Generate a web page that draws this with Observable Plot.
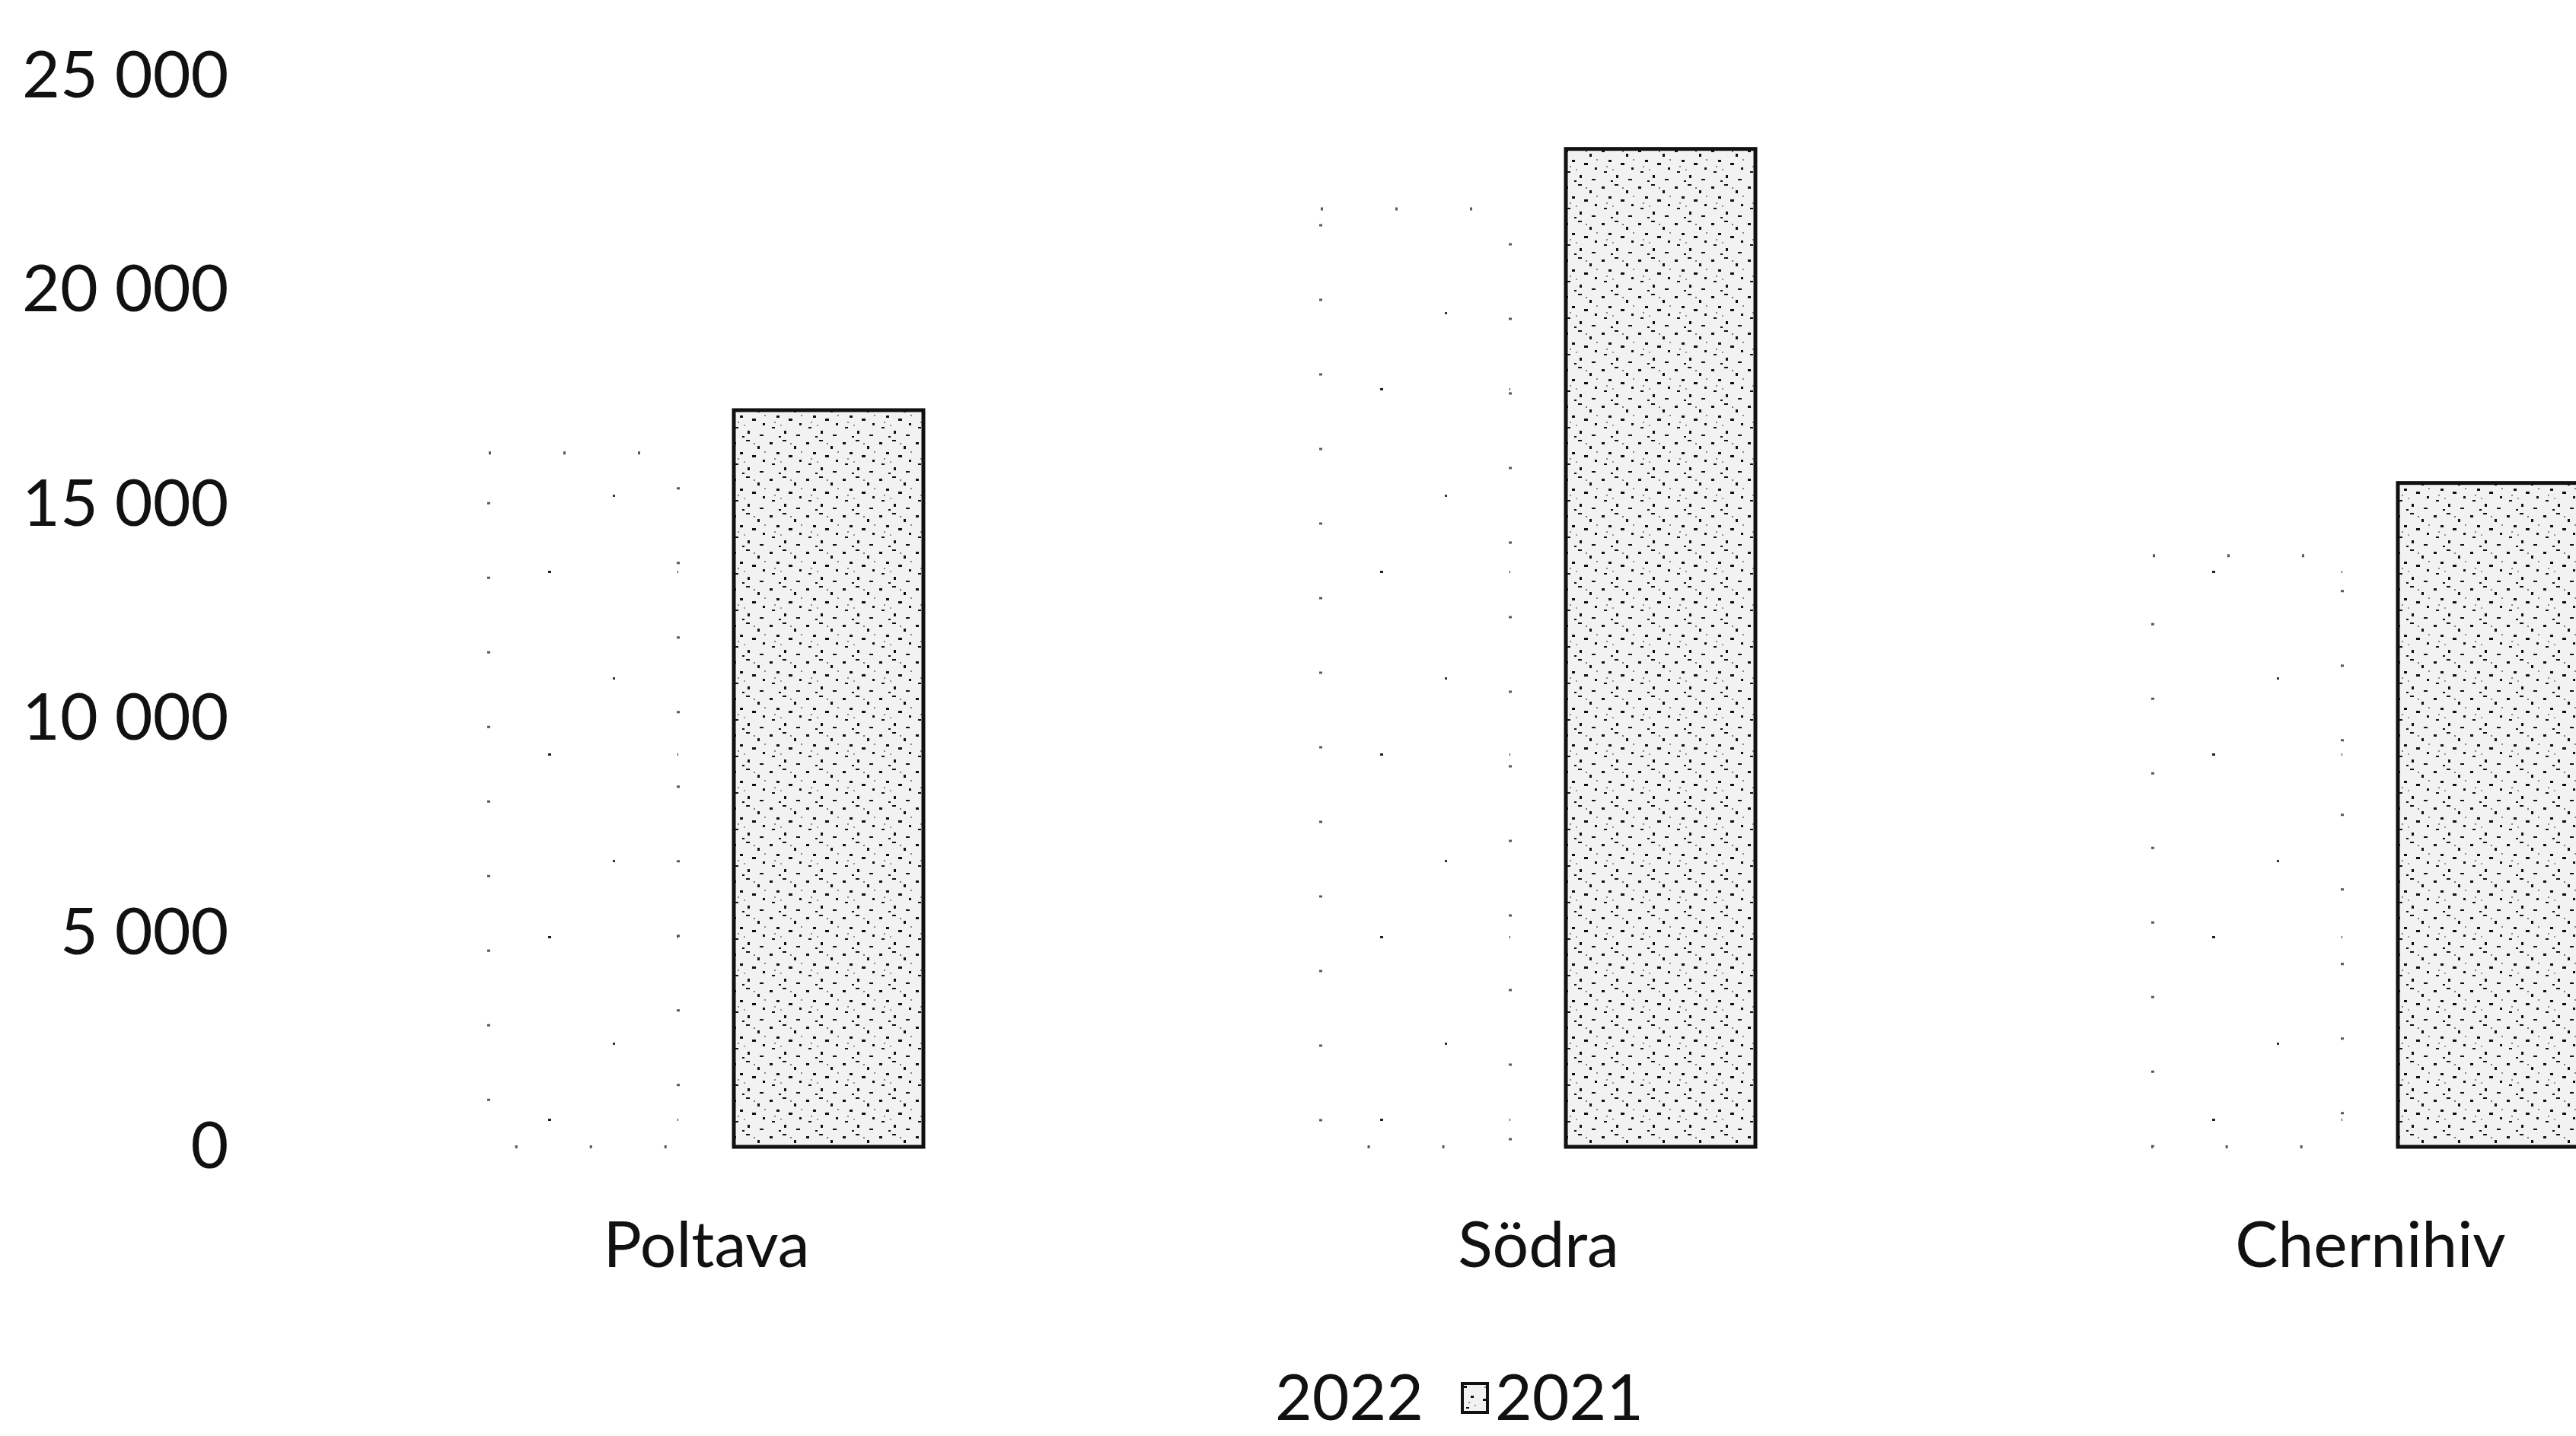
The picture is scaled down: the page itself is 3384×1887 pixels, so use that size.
<!DOCTYPE html>
<html><head><meta charset="utf-8">
<script src="https://cdn.jsdelivr.net/npm/d3@7"></script>
<script src="https://cdn.jsdelivr.net/npm/@observablehq/plot@0.6"></script>
<style>
html,body{margin:0;padding:0;background:#fff;overflow:hidden;}
#wrap{position:relative;width:3384px;height:1887px;overflow:hidden;background:#fff;}
#wrap svg{overflow:hidden;display:block;}
#legend{position:absolute;left:0;top:1720px;}
</style></head><body><div id="wrap"></div>
<script>
const categories = ["Poltava", "Södra", "Chernihiv"];
const series = ["2022", "2021"];
const values2022 = [16200, 21900, 13800];
const values2021 = [17200, 23300, 15500];
const yTicks = [0, 5000, 10000, 15000, 20000, 25000];
const yTickLabels = ["0", "5 000", "10 000", "15 000", "20 000", "25 000"];

const rows = [];
categories.forEach((c, i) => {
  rows.push({category: c, series: series[0], value: values2022[i]});
  rows.push({category: c, series: series[1], value: values2021[i]});
});

const W = 3384, H = 1720;
const chart = Plot.plot({
  width: W, height: H,
  marginTop: 100, marginBottom: H - 1507, marginLeft: 381, marginRight: 0,
  style: {fontFamily: "Lato, 'Open Sans', sans-serif", fontSize: "84px", color: "#111", background: "#fff", overflow: "hidden"},
  fx: {domain: categories, range: [381, 3660], padding: 0},
  x: {domain: series, axis: null, paddingInner: 0.226, paddingOuter: 0.805},
  y: {domain: [0, 25000]},
  marks: [
    Plot.axisY({ticks: yTicks, tickFormat: d => yTickLabels[yTicks.indexOf(d)], tickSize: 0, tickPadding: 81, label: null, fontSize: 86}),
    Plot.axisFx({anchor: "bottom", tickSize: 0, tickPadding: 98, label: null}),
    Plot.barY(rows, {filter: d => d.series === series[0], fx: "category", x: "series", y: "value", inset: 0,
      fill: "url(#stip2022)", stroke: "#222", strokeWidth: 4, strokeDasharray: "3 95", strokeOpacity: 0.75}),
    Plot.barY(rows, {filter: d => d.series === series[1], fx: "category", x: "series", y: "value", inset: 0,
      fill: "url(#stip2021)", stroke: "#111", strokeWidth: 5})
  ]
});

const speck2021 = `
<rect width="48" height="48" fill="#f2f2f2"/>
<rect x="3" y="5" width="4" height="3" fill="#111"/>
<rect x="20" y="2" width="5" height="2" fill="#111"/>
<rect x="35" y="10" width="3" height="4" fill="#111"/>
<rect x="12" y="18" width="4" height="3" fill="#111"/>
<rect x="28" y="22" width="5" height="3" fill="#111"/>
<rect x="42" y="28" width="3" height="3" fill="#111"/>
<rect x="6" y="33" width="4" height="2" fill="#111"/>
<rect x="22" y="38" width="3" height="4" fill="#111"/>
<rect x="38" y="43" width="5" height="2" fill="#111"/>
<rect x="15" y="45" width="3" height="2" fill="#111"/>
<rect x="30" y="6" width="2" height="2" fill="#777"/>
<rect x="9" y="26" width="2" height="2" fill="#888"/>
<rect x="44" y="17" width="2" height="2" fill="#888"/>
<rect x="17" y="30" width="2" height="2" fill="#999"/>`;
const defs = `<defs>
<pattern id="stip2021" patternUnits="userSpaceOnUse" width="48" height="48">${speck2021}</pattern>
<pattern id="stip2022" patternUnits="userSpaceOnUse" width="170" height="240">
<rect width="170" height="240" fill="#fff"/>
<rect x="40" y="30" width="4" height="3" fill="#222"/>
<rect x="125" y="170" width="3" height="3" fill="#333"/>
</pattern></defs>`;
chart.insertAdjacentHTML("afterbegin", defs);
chart.style.width = W + "px";
chart.style.maxWidth = "none";
document.getElementById("wrap").appendChild(chart);

// legend below the chart
const leg = d3.select("#wrap").append("svg").attr("id", "legend")
  .attr("width", W).attr("height", 1887 - H)
  .style("font-family", "Lato, 'Open Sans', sans-serif").style("font-size", "84px");
leg.append("defs").html(`<pattern id="legstip" patternUnits="userSpaceOnUse" width="48" height="48">${speck2021}</pattern>`);
leg.append("text").attr("x", 1675).attr("y", 146).attr("fill", "#111").text(series[0]);
leg.append("rect").attr("x", 1921).attr("y", 98).attr("width", 33).attr("height", 38)
  .attr("fill", "url(#legstip)").attr("stroke", "#111").attr("stroke-width", 4);
leg.append("text").attr("x", 1964).attr("y", 146).attr("fill", "#111").text(series[1]);
</script></body></html>
